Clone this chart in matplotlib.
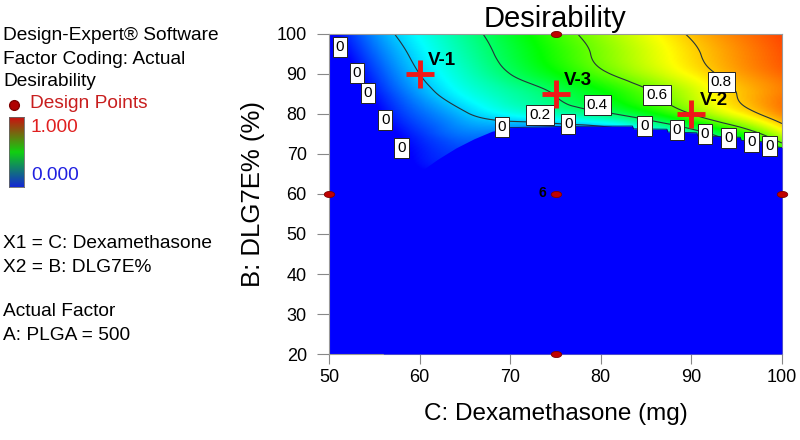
import numpy as np
import matplotlib
matplotlib.use('Agg')
import matplotlib.pyplot as plt
import matplotlib.tri as mtri
from matplotlib.colors import LinearSegmentedColormap
from matplotlib.path import Path
from matplotlib.transforms import Affine2D

plt.rcParams['font.family'] = ['Liberation Sans', 'DejaVu Sans']

# desirability on a coarse grid (rows = DLG7E%, cols = Dexamethasone)
grid_x = [50, 55, 60, 65, 70, 75, 80, 85, 90, 95, 100]
grid_y = [60, 65, 70, 75, 80, 85, 90, 95, 100]
desir = [
    [-0.40, -0.30, -0.20, -0.10, -0.10, -0.10, -0.10, -0.10, -0.10, -0.10, -0.10],
    [-0.35, -0.15, -0.02, 0.00, 0.00, 0.00, 0.00, 0.00, 0.00, 0.05, 0.10],
    [-0.30, -0.10, 0.02, 0.06, 0.05, 0.05, 0.05, 0.08, 0.15, 0.30, 0.45],
    [-0.25, -0.06, 0.05, 0.12, 0.10, 0.08, 0.10, 0.20, 0.33, 0.50, 0.70],
    [-0.20, -0.02, 0.10, 0.19, 0.26, 0.315, 0.375, 0.47, 0.60, 0.74, 0.86],
    [-0.14, 0.02, 0.155, 0.26, 0.335, 0.405, 0.485, 0.58, 0.69, 0.80, 0.875],
    [-0.10, 0.06, 0.20, 0.305, 0.40, 0.49, 0.58, 0.67, 0.755, 0.835, 0.895],
    [-0.06, 0.10, 0.23, 0.335, 0.435, 0.53, 0.62, 0.705, 0.785, 0.855, 0.915],
    [-0.03, 0.14, 0.26, 0.36, 0.46, 0.555, 0.645, 0.73, 0.81, 0.875, 0.93],
]

# edge of the zero-desirability (blue) region
edge_x = [56, 58, 60, 62, 64, 66, 68, 70, 76, 83.5, 83.6, 87.3, 87.4, 90.6, 90.7, 95.4, 95.5, 98.2, 98.3, 100]
edge_y = [58, 62, 65.5, 68.7, 71.5, 73.8, 75.7, 76.6, 76.9, 77.0, 76.3, 76.2, 75.5, 75.3, 74.5, 74.2, 73.4, 73.0, 72.2, 71.6]

contour_levels = [0.2, 0.4, 0.6, 0.8]

# design points and verification points
dp_x = [75, 50, 75, 100, 75]
dp_y = [100, 60, 60, 60, 20]
v_x = [60, 90, 75]
v_y = [90, 80, 85]
v_names = ['V-1', 'V-2', 'V-3']

# label spots for the contour labels (layout)
zero_label_pos = [(51.2, 96.7), (53.1, 90.2), (54.3, 85.2), (56.2, 78.4), (58.0, 71.4),
                  (69.1, 76.8), (76.4, 77.6), (84.8, 76.9), (88.4, 76.0), (91.5, 75.1),
                  (94.1, 74.1), (96.6, 73.0), (98.6, 72.0)]
level_label_pos = [(73.3, 79.7), (79.6, 82.2), (86.2, 84.7), (93.3, 88.0)]

de_cmap = LinearSegmentedColormap.from_list(
    'de', ['#0000ff', '#00ffff', '#00ff00', '#ffff00', '#ff0000'])
legend_cmap = LinearSegmentedColormap.from_list('leg', ['#1428d2', '#10d010', '#cc1010'])

fig = plt.figure(figsize=(8, 4.4), dpi=100)
ax = fig.add_axes([329 / 800, 1 - 354 / 440, 453 / 800, 320 / 440])
ax.set_facecolor('#0000ff')

# smooth the coarse grid with a cubic interpolator
gx, gy = np.meshgrid(grid_x, grid_y)
tri = mtri.Triangulation(gx.ravel(), gy.ravel())
interp = mtri.CubicTriInterpolator(tri, np.array(desir).ravel(), kind='min_E')
fx = np.linspace(50, 100, 301)
fy = np.linspace(60, 100, 241)
FX, FY = np.meshgrid(fx, fy)
Z = np.clip(np.asarray(interp(FX, FY)), 0, 1)

ax.imshow(Z, extent=(50, 100, 60, 100), origin='lower', cmap=de_cmap,
          vmin=0, vmax=1, aspect='auto', interpolation='bilinear', zorder=1)
ax.contour(FX, FY, Z, levels=contour_levels, colors='#24343a', linewidths=0.8, zorder=2)
ax.fill_between(edge_x, 20, edge_y, color='#0000ff', lw=0, zorder=3)
ax.plot(edge_x[7:], edge_y[7:], color='#101060', lw=0.6, zorder=3)

box = dict(boxstyle='square,pad=0.2', fc='white', ec='#222222', lw=0.7)
for (lx, ly) in zero_label_pos:
    ax.text(lx, ly, '0', fontsize=11, ha='center', va='center', bbox=box, zorder=5)
for (lx, ly), lev in zip(level_label_pos, contour_levels):
    ax.text(lx, ly, f'{lev:.1f}', fontsize=11, ha='center', va='center', bbox=box, zorder=5)

# design points (ellipse markers)
ell = Path.unit_circle().transformed(Affine2D().scale(1.7, 1.0))
ax.plot(dp_x, dp_y, ls='none', marker=ell, ms=7.5, mfc='#c00000', mec='#7a0000',
        mew=0.6, clip_on=False, zorder=6)
ax.annotate('6', (dp_x[2], dp_y[2]), xytext=(-7, 1), textcoords='offset points',
            ha='right', va='center', fontsize=10, fontweight='bold', zorder=6)

# verification points
ax.plot(v_x, v_y, ls='none', marker='+', ms=20, mew=3.5, color='#f01818', zorder=7)
for x, y, name in zip(v_x, v_y, v_names):
    ax.annotate(name, (x, y), xytext=(6, 10), textcoords='offset points',
                ha='left', va='center', fontsize=13.5, fontweight='bold', zorder=7)

ax.set_xlim(50, 100)
ax.set_ylim(20, 100)
ax.set_xticks(np.arange(50, 101, 10))
ax.set_yticks(np.arange(20, 101, 10))
ax.tick_params(axis='both', direction='out', color='#888888', labelsize=13)
ax.tick_params(axis='y', length=9, pad=7)
ax.tick_params(axis='x', length=7, pad=4)
for sp in ax.spines.values():
    sp.set_color('#999999')
    sp.set_linewidth(0.8)
ax.set_title('Desirability', fontsize=21, pad=5)
ax.set_xlabel('C: Dexamethasone (mg)', fontsize=17.5, labelpad=12)
ax.set_ylabel('B: DLG7E% (%)', fontsize=18.5, labelpad=8)

# left side annotation block (figure pixel coordinates)
info = fig.add_axes([0, 0, 1, 1], zorder=-1)
info.set_xlim(0, 800)
info.set_ylim(440, 0)
info.axis('off')
fs = 13.8
info.text(3, 36, 'Design-Expert® Software', fontsize=fs, va='center')
info.text(3, 59, 'Factor Coding: Actual', fontsize=fs, va='center')
info.text(3, 81, 'Desirability', fontsize=fs, va='center')
info.plot([13.5], [105], ls='none', marker='o', ms=7, mfc='#b00000', mec='#800000')
info.text(30, 104, 'Design Points', fontsize=fs, va='center', color='#c81e1e')
info.text(31, 127, '1.000', fontsize=fs, va='center', color='#e02020')
info.text(31, 175, '0.000', fontsize=fs, va='center', color='#2020e0')
info.text(3, 243, 'X1 = C: Dexamethasone', fontsize=fs, va='center')
info.text(3, 267, 'X2 = B: DLG7E%', fontsize=fs, va='center')
info.text(3, 312, 'Actual Factor', fontsize=fs, va='center')
info.text(3, 335, 'A: PLGA = 500', fontsize=fs, va='center')

cb = fig.add_axes([8.5 / 800, 1 - 187 / 440, 15 / 800, 70 / 440])
cb.imshow(np.linspace(1, 0, 200)[:, None], cmap=legend_cmap, aspect='auto')
cb.set_xticks([])
cb.set_yticks([])
for sp in cb.spines.values():
    sp.set_color('#666666')
    sp.set_linewidth(0.6)

fig.savefig('out.png', dpi=100)
